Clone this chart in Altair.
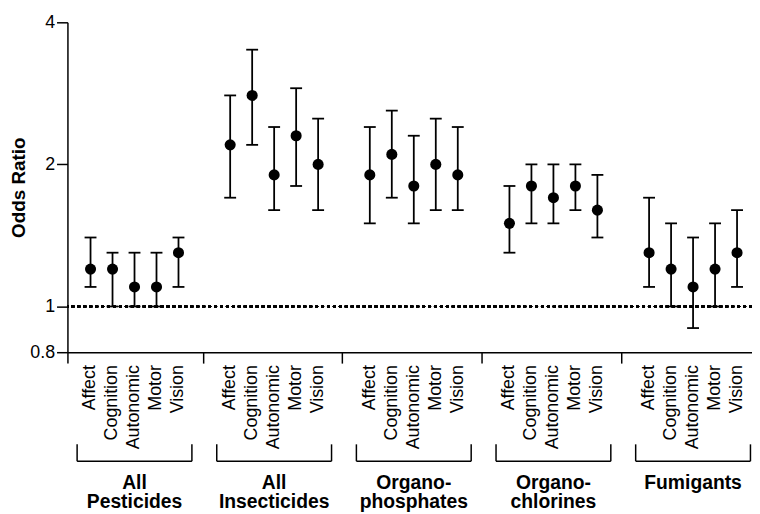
import altair as alt
import pandas as pd

groups = ["All\nPesticides", "All\nInsecticides", "Organo-\nphosphates", "Organo-\nchlorines", "Fumigants"]
outcomes = ["Affect", "Cognition", "Autonomic", "Motor", "Vision"]

odds = [
    [1.2, 1.2, 1.1, 1.1, 1.3],
    [2.2, 2.8, 1.9, 2.3, 2.0],
    [1.9, 2.1, 1.8, 2.0, 1.9],
    [1.5, 1.8, 1.7, 1.8, 1.6],
    [1.3, 1.2, 1.1, 1.2, 1.3],
]
lower = [
    [1.1, 1.0, 1.0, 1.0, 1.1],
    [1.7, 2.2, 1.6, 1.8, 1.6],
    [1.5, 1.7, 1.5, 1.6, 1.6],
    [1.3, 1.5, 1.5, 1.6, 1.4],
    [1.1, 1.0, 0.9, 1.0, 1.1],
]
upper = [
    [1.4, 1.3, 1.3, 1.3, 1.4],
    [2.8, 3.5, 2.4, 2.9, 2.5],
    [2.4, 2.6, 2.3, 2.5, 2.4],
    [1.8, 2.0, 2.0, 2.0, 1.9],
    [1.7, 1.5, 1.4, 1.5, 1.6],
]
y_ticks = [0.8, 1, 2, 4]

STEP = 6.35
HALF = 2.61
X_MIN, X_MAX = -1.05, 30.08

rows = []
for g, grp in enumerate(groups):
    for i, o in enumerate(outcomes):
        rows.append({"group": grp, "outcome": o, "pos": g * STEP + i,
                     "or": odds[g][i], "lo": lower[g][i], "hi": upper[g][i]})
df = pd.DataFrame(rows)

gdf = pd.DataFrame({
    "group": groups,
    "center": [g * STEP + 2 for g in range(len(groups))],
})
gdf["left"] = gdf["center"] - HALF
gdf["right"] = gdf["center"] + HALF

boundaries = [X_MIN] + [g * STEP - 1.25 for g in range(1, len(groups))]

FONT = "Liberation Sans"

xscale = alt.Scale(domain=[X_MIN, X_MAX], nice=False, zero=False)
yscale = alt.Scale(type="log", domain=[0.8, 4], nice=False, zero=False)

x_enc = alt.X("pos:Q", scale=xscale,
              axis=alt.Axis(values=boundaries, labels=False, title=None, grid=False,
                            tickSize=11, tickWidth=1.5, tickColor="black",
                            domainColor="black", domainWidth=1.5))
y_axis = alt.Axis(values=y_ticks, format="~g", title="Odds Ratio", grid=False,
                  tickSize=11, tickWidth=1.5, tickColor="black",
                  domainColor="black", domainWidth=1.5,
                  labelFont=FONT, labelFontSize=18, labelColor="black", labelPadding=2,
                  titleFont=FONT, titleFontSize=19, titleFontWeight="bold",
                  titleColor="black", titlePadding=1)

base = alt.Chart(df)

ref = base.mark_rule(color="black", strokeDash=[3, 3], strokeWidth=1.5).encode(
    y=alt.datum(1, scale=yscale, axis=y_axis)
)

bars = base.mark_rule(color="black", strokeWidth=1.8).encode(
    x=x_enc,
    y=alt.Y("lo:Q", scale=yscale, axis=y_axis),
    y2="hi:Q",
)
cap_lo = base.mark_tick(orient="horizontal", color="black", size=12, thickness=1.8, opacity=1).encode(
    x="pos:Q", y="lo:Q")
cap_hi = base.mark_tick(orient="horizontal", color="black", size=12, thickness=1.8, opacity=1).encode(
    x="pos:Q", y="hi:Q")
points = base.mark_circle(color="black", size=125, opacity=1).encode(
    x="pos:Q", y="or:Q")

cat_labels = base.mark_text(angle=270, align="right", baseline="middle",
                            font=FONT, fontSize=18, color="black").encode(
    x="pos:Q", y=alt.value(346), text="outcome:N")

gbase = alt.Chart(gdf)
br_h = gbase.mark_rule(color="black", strokeWidth=1.5).encode(
    x="left:Q", x2="right:Q", y=alt.value(443))
br_l = gbase.mark_rule(color="black", strokeWidth=1.5).encode(
    x="left:Q", y=alt.value(426), y2=alt.value(443))
br_r = gbase.mark_rule(color="black", strokeWidth=1.5).encode(
    x="right:Q", y=alt.value(426), y2=alt.value(443))
g_labels = gbase.mark_text(align="center", baseline="alphabetic", lineBreak="\n",
                           lineHeight=20, font=FONT, fontSize=19.5, fontWeight="bold",
                           color="black").encode(
    x="center:Q", y=alt.value(470.7), text="group:N")

chart = alt.layer(bars, ref, cap_lo, cap_hi, points, cat_labels,
                  br_h, br_l, br_r, g_labels).properties(
    width=691, height=333,
    autosize=alt.AutoSizeParams(type="none"),
    padding={"left": 60, "top": 12, "right": 0, "bottom": 175},
    background="white",
).configure_view(stroke=None)

chart.save("out.html", embed_options={"renderer": "svg", "actions": False})
